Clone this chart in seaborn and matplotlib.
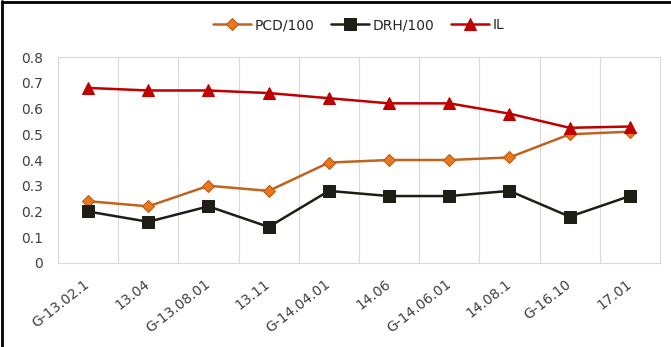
import numpy as np
import pandas as pd
import matplotlib
matplotlib.use("Agg")
import matplotlib.pyplot as plt
import seaborn as sns
from matplotlib.lines import Line2D

# donnees
categories = ["G-13.02.1", "13.04", "G-13.08.01", "13.11", "G-14.04.01",
              "14.06", "G-14.06.01", "14.08.1", "G-16.10", "17.01"]
pcd = [0.24, 0.22, 0.30, 0.28, 0.39, 0.40, 0.40, 0.41, 0.50, 0.51]
drh = [0.20, 0.16, 0.22, 0.14, 0.28, 0.26, 0.26, 0.28, 0.18, 0.26]
il = [0.68, 0.67, 0.67, 0.66, 0.64, 0.62, 0.62, 0.58, 0.525, 0.53]
y_ticks = [0, 0.1, 0.2, 0.3, 0.4, 0.5, 0.6, 0.7, 0.8]
y_labels = ["0", "0.1", "0.2", "0.3", "0.4", "0.5", "0.6", "0.7", "0.8"]

sns.set_style("white")
plt.rcParams['font.family'] = ['DejaVu Sans']

df = pd.DataFrame({"cat": categories, "PCD/100": pcd, "DRH/100": drh, "IL": il})
df["x"] = np.arange(len(categories))

fig = plt.figure(figsize=(6.71, 3.47), dpi=100)
ax = fig.add_axes([0.0864, 0.2421, 0.8972, 0.5936])

sns.lineplot(data=df, x="x", y="PCD/100", ax=ax, color="#C0631F", linewidth=1.8,
             marker="D", markersize=6, markerfacecolor="#E8781A",
             markeredgecolor="#B8581A", label="PCD/100")
sns.lineplot(data=df, x="x", y="DRH/100", ax=ax, color="#1E1E16", linewidth=1.8,
             marker="s", markersize=9, markerfacecolor="#1E1E16",
             markeredgecolor="#1E1E16", label="DRH/100")
sns.lineplot(data=df, x="x", y="IL", ax=ax, color="#C00000", linewidth=1.8,
             marker="^", markersize=9, markerfacecolor="#C00000",
             markeredgecolor="#C00000", label="IL")

ax.set_xlim(-0.5, len(categories) - 0.5)
ax.set_ylim(0, 0.8)
ax.set_yticks(y_ticks)
ax.set_yticklabels(y_labels, fontsize=10, color="#404040")
ax.set_xticks(df["x"])
ax.set_xticklabels(categories, fontsize=10, color="#404040", rotation=38,
                   ha="right", va="center", rotation_mode="anchor")
ax.set_xticks(np.arange(-0.5, len(categories)), minor=True)
ax.grid(which="minor", axis="x", color="#D9D9D9", linewidth=0.8)
ax.grid(which="major", visible=False)
ax.tick_params(which="both", length=0)
ax.tick_params(axis="x", pad=14)
ax.tick_params(axis="y", pad=11)
ax.set_xlabel("")
ax.set_ylabel("")
for s in ax.spines.values():
    s.set_color("#D9D9D9")
    s.set_linewidth(0.8)

ax.legend(loc="center", bbox_to_anchor=(0.5, 1.155), ncol=3, frameon=False,
          fontsize=10, handlelength=2.7, columnspacing=1.2, handletextpad=0.3)

# cadre noir de l'image d'origine
fig.add_artist(Line2D([0.003, 0.003], [0, 0.997], transform=fig.transFigure, color="black", linewidth=2))
fig.add_artist(Line2D([0.003, 1], [0.994, 0.994], transform=fig.transFigure, color="black", linewidth=2))

fig.savefig("out.png", dpi=100)
